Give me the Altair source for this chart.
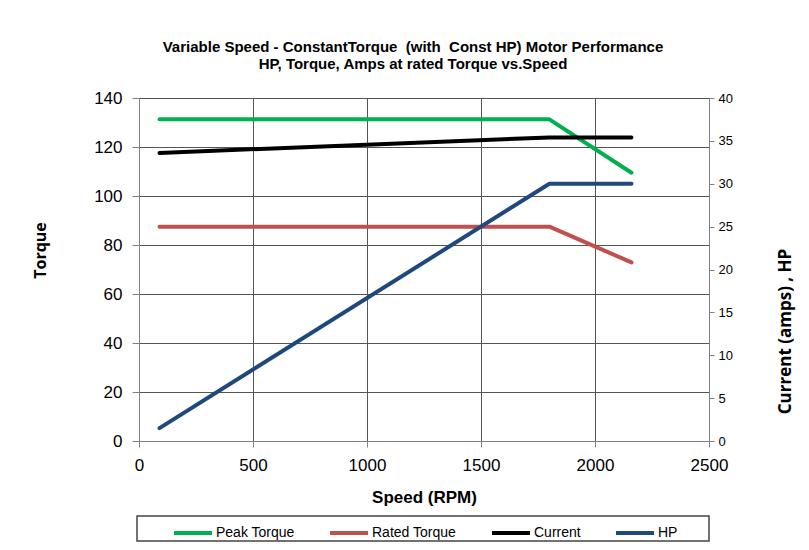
import altair as alt
import pandas as pd

# ---- data ----
speed = [90, 1800, 2160]
peak_torque = [131.3, 131.3, 109.5]
rated_torque = [87.5, 87.5, 72.9]
current = [33.6, 35.4, 35.4]
hp = [1.5, 30.0, 30.0]

series_names = ["Peak Torque", "Rated Torque", "Current", "HP"]
series_colors = ["#00B050", "#C0504D", "#000000", "#1F497D"]

x_ticks = [0, 500, 1000, 1500, 2000, 2500]
left_ticks = [0, 20, 40, 60, 80, 100, 120, 140]
right_ticks = [0, 5, 10, 15, 20, 25, 30, 35, 40]

left_rows = []
for name, vals in [("Peak Torque", peak_torque), ("Rated Torque", rated_torque)]:
    for i, (s, v) in enumerate(zip(speed, vals)):
        left_rows.append({"series": name, "speed": s, "value": v, "idx": i})
right_rows = []
for name, vals in [("Current", current), ("HP", hp)]:
    for i, (s, v) in enumerate(zip(speed, vals)):
        right_rows.append({"series": name, "speed": s, "value": v, "idx": i})

left_df = pd.DataFrame(left_rows)
right_df = pd.DataFrame(right_rows)

FONT = "Liberation Sans"
TFONT = "Open Sans"

color = alt.Color(
    "series:N",
    scale=alt.Scale(domain=series_names, range=series_colors),
    sort=series_names,
    legend=alt.Legend(
        title=None,
        orient="none",
        direction="horizontal",
        legendX=33,
        legendY=414,
        symbolType="stroke",
        symbolSize=1444,
        symbolStrokeWidth=4,
        labelFont=FONT,
        labelFontSize=14,
        labelColor="#000000",
        labelOffset=2,
        gridAlign="none",
        columnPadding=27,
        labelLimit=200,
    ),
)

x_enc = alt.X(
    "speed:Q",
    scale=alt.Scale(domain=[0, 2500], nice=False, zero=True),
    axis=alt.Axis(
        values=x_ticks,
        title="Speed (RPM)",
        titleFont=FONT,
        titleFontSize=17,
        titleFontWeight="bold",
        titleColor="#000000",
        titleY=56,
        titleBaseline="middle",
        labelFont=FONT,
        labelFontSize=17,
        labelColor="#000000",
        labelPadding=10,
        labelFlush=False,
        tickSize=6,
        tickColor="#808080",
        domainColor="#808080",
        grid=True,
        gridColor="#555555",
        gridWidth=1,
        format="d",
    ),
)

left = alt.Chart(left_df).mark_line(strokeWidth=4, strokeCap="round", strokeJoin="round").encode(
    x=x_enc,
    y=alt.Y(
        "value:Q",
        scale=alt.Scale(domain=[0, 140], nice=False),
        axis=alt.Axis(
            values=left_ticks,
            title="Torque",
            titleFont=TFONT,
            titleFontSize=16,
            titleFontWeight="bold",
            titleColor="#000000",
            titleAngle=270,
            titleX=-99,
            titleY=152,
            titleAlign="center",
            titleBaseline="middle",
            labelFont=FONT,
            labelFontSize=17,
            labelColor="#000000",
            labelPadding=10,
            tickSize=7,
            tickColor="#808080",
            domainColor="#808080",
            grid=True,
            gridColor="#555555",
            gridWidth=1,
        ),
    ),
    color=color,
    order="idx:Q",
)

right = alt.Chart(right_df).mark_line(strokeWidth=4, strokeCap="round", strokeJoin="round").encode(
    x=x_enc,
    y=alt.Y(
        "value:Q",
        scale=alt.Scale(domain=[0, 40], nice=False),
        axis=alt.Axis(
            orient="right",
            values=right_ticks,
            title="Current (amps) , HP",
            titleFont=TFONT,
            titleFontSize=17,
            titleFontWeight="bold",
            titleColor="#000000",
            titleAngle=270,
            titleX=76,
            titleY=233,
            titleAlign="center",
            titleBaseline="middle",
            labelFont=FONT,
            labelFontSize=13,
            labelColor="#000000",
            labelPadding=4,
            tickSize=5,
            tickColor="#808080",
            domainColor="#808080",
            grid=False,
        ),
    ),
    color=color,
    order="idx:Q",
)

frame = alt.Chart(pd.DataFrame({"a": [0]})).mark_rect(
    filled=False, stroke="#444444", strokeWidth=1.5
).encode(
    x=alt.value(-2), x2=alt.value(570), y=alt.value(418), y2=alt.value(443)
)

chart = (
    alt.layer(left, right, frame)
    .resolve_scale(y="independent")
    .properties(
        width=570,
        height=343,
        autosize=alt.AutoSizeParams(type="none"),
        padding={"left": 131, "top": 90, "right": 92, "bottom": 101},
        title=alt.TitleParams(
            text=[
                "Variable Speed - ConstantTorque\u00a0 (with\u00a0 Const HP) Motor Performance",
                "HP, Torque, Amps at rated Torque vs.Speed",
            ],
            font=FONT,
            fontSize=15,
            fontWeight="bold",
            color="#000000",
            anchor="middle",
            dx=-11,
            offset=17,
            lineHeight=17,
        ),
    )
    .configure_view(stroke=None)
    .configure(background="white")
)

chart.save("out.html", embed_options={"renderer": "svg", "actions": False})
